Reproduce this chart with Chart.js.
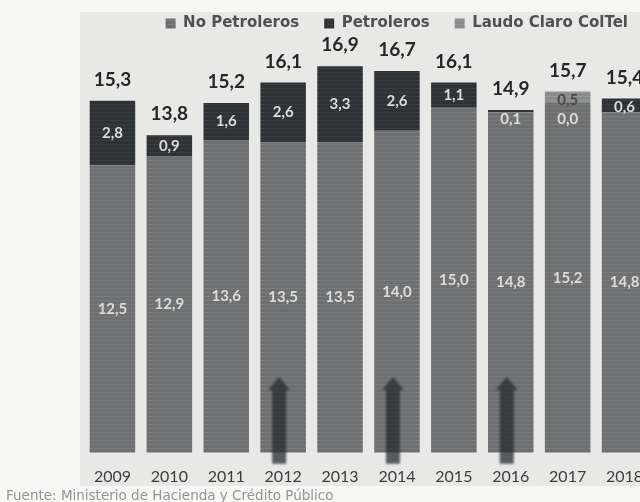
<!DOCTYPE html>
<html>
<head>
<meta charset="utf-8">
<script src="https://cdn.jsdelivr.net/npm/chart.js@4.4.1/dist/chart.umd.min.js"></script>
<style>
  html, body { margin:0; padding:0; width:640px; height:502px; overflow:hidden; background:#f7f7f6; }
  #panel { position:absolute; left:80px; top:12px; width:560px; height:474px; background:#e8e8e7; }
  #grafico { position:absolute; left:0; top:0; }
  #fuente { position:absolute; left:6px; top:487px; font:13.5px "DejaVu Sans", sans-serif; color:#949494; }
</style>
</head>
<body>
<div id="panel"></div>
<canvas id="grafico" width="660" height="502"></canvas>
<div id="fuente">Fuente: Ministerio de Hacienda y Crédito Público</div>
<script>
// Ingresos tributarios (% del PIB)
const anios = ['2009','2010','2011','2012','2013','2014','2015','2016','2017','2018'];
const noPetroleros = [12.5, 12.9, 13.6, 13.5, 13.5, 14.0, 15.0, 14.8, 15.2, 14.8];
const petroleros = [2.8, 0.9, 1.6, 2.6, 3.3, 2.6, 1.1, 0.1, 0.0, 0.6];
const laudo = [null, null, null, null, null, null, null, null, 0.5, null];
const totales = [15.3, 13.8, 15.2, 16.1, 16.9, 16.7, 16.1, 14.9, 15.7, 15.4];
const flechas = ['2012', '2014', '2016'];

// relleno con líneas horizontales, como el impreso
function rayado(base, linea) {
  const c = document.createElement('canvas');
  c.width = 4; c.height = 4;
  const g = c.getContext('2d');
  g.fillStyle = base; g.fillRect(0, 0, 4, 4);
  g.fillStyle = linea; g.fillRect(0, 0, 4, 1);
  return g.createPattern(c, 'repeat');
}

const fmt = v => v.toFixed(1).replace('.', ',');

const pintaFlechas = {
  id: 'pintaFlechas',
  afterDatasetsDraw(chart) {
    const ctx = chart.ctx;
    const xs = chart.scales.x, ys = chart.scales.y;
    ctx.save();
    ctx.filter = 'blur(1.2px)';
    ctx.fillStyle = 'rgba(40,43,46,0.75)';
    flechas.forEach(a => {
      const x = xs.getPixelForValue(anios.indexOf(a)) - 4;
      const yTop = ys.getPixelForValue(3.3);
      const yBot = ys.getPixelForValue(0) + 11;
      ctx.beginPath();
      ctx.moveTo(x, yTop);
      ctx.lineTo(x + 11, yTop + 13);
      ctx.lineTo(x + 7, yTop + 13);
      ctx.lineTo(x + 7, yBot);
      ctx.lineTo(x - 7, yBot);
      ctx.lineTo(x - 7, yTop + 13);
      ctx.lineTo(x - 11, yTop + 13);
      ctx.closePath();
      ctx.fill();
    });
    ctx.restore();
  }
};

const etiquetas = {
  id: 'etiquetas',
  afterDatasetsDraw(chart) {
    const ctx = chart.ctx;
    ctx.save();
    ctx.textAlign = 'center';
    ctx.textBaseline = 'middle';
    const tope = anios.map(() => Infinity);
    chart.data.datasets.forEach((ds, i) => {
      const meta = chart.getDatasetMeta(i);
      ctx.font = 'bold 15px Lato';
      ctx.fillStyle = i === 2 ? '#4a4a4a' : '#dcdcdc';
      meta.data.forEach((bar, j) => {
        const v = ds.data[j];
        if (v === null) return;
        tope[j] = Math.min(tope[j], bar.y);
        const alto = bar.base - bar.y;
        let y = (bar.y + bar.base) / 2;
        if (alto < 18) y = bar.y + (v === 0 ? 16 : 9);
        ctx.fillText(fmt(v), bar.x, y);
      });
    });
    ctx.font = 'bold 19px Lato';
    ctx.fillStyle = '#262626';
    const x0 = chart.getDatasetMeta(0).data;
    totales.forEach((t, j) => {
      ctx.fillText(fmt(t), x0[j].x, tope[j] - 21);
    });
    ctx.restore();
  }
};

new Chart(document.getElementById('grafico'), {
  type: 'bar',
  data: {
    labels: anios,
    datasets: [
      { label: 'No Petroleros', data: noPetroleros, backgroundColor: rayado('#6d6f70', '#7a7b7c') },
      { label: 'Petroleros', data: petroleros, backgroundColor: rayado('#2e3235', '#393d40') },
      { label: 'Laudo Claro ColTel', data: laudo, backgroundColor: rayado('#8a8b8b', '#959696') }
    ]
  },
  options: {
    responsive: false,
    animation: false,
    datasets: { bar: { barPercentage: 0.8, categoryPercentage: 1, borderWidth: 0 } },
    layout: { padding: { left: 84, right: 7, top: -9, bottom: 2 } },
    scales: {
      x: {
        stacked: true,
        grid: { display: false, drawTicks: false },
        border: { display: false },
        ticks: { color: '#3c3c3c', padding: 14, font: { family: 'Lato', size: 16 } }
      },
      y: { stacked: true, display: false, min: 0, max: 17.9 }
    },
    plugins: {
      legend: {
        position: 'top',
        align: 'end',
        labels: {
          boxWidth: 10,
          boxHeight: 10,
          padding: 25,
          color: '#505050',
          font: { family: 'DejaVu Sans', size: 15, weight: 'bold' }
        }
      },
      tooltip: { enabled: false }
    }
  },
  plugins: [pintaFlechas, etiquetas]
});
</script>
</body>
</html>
